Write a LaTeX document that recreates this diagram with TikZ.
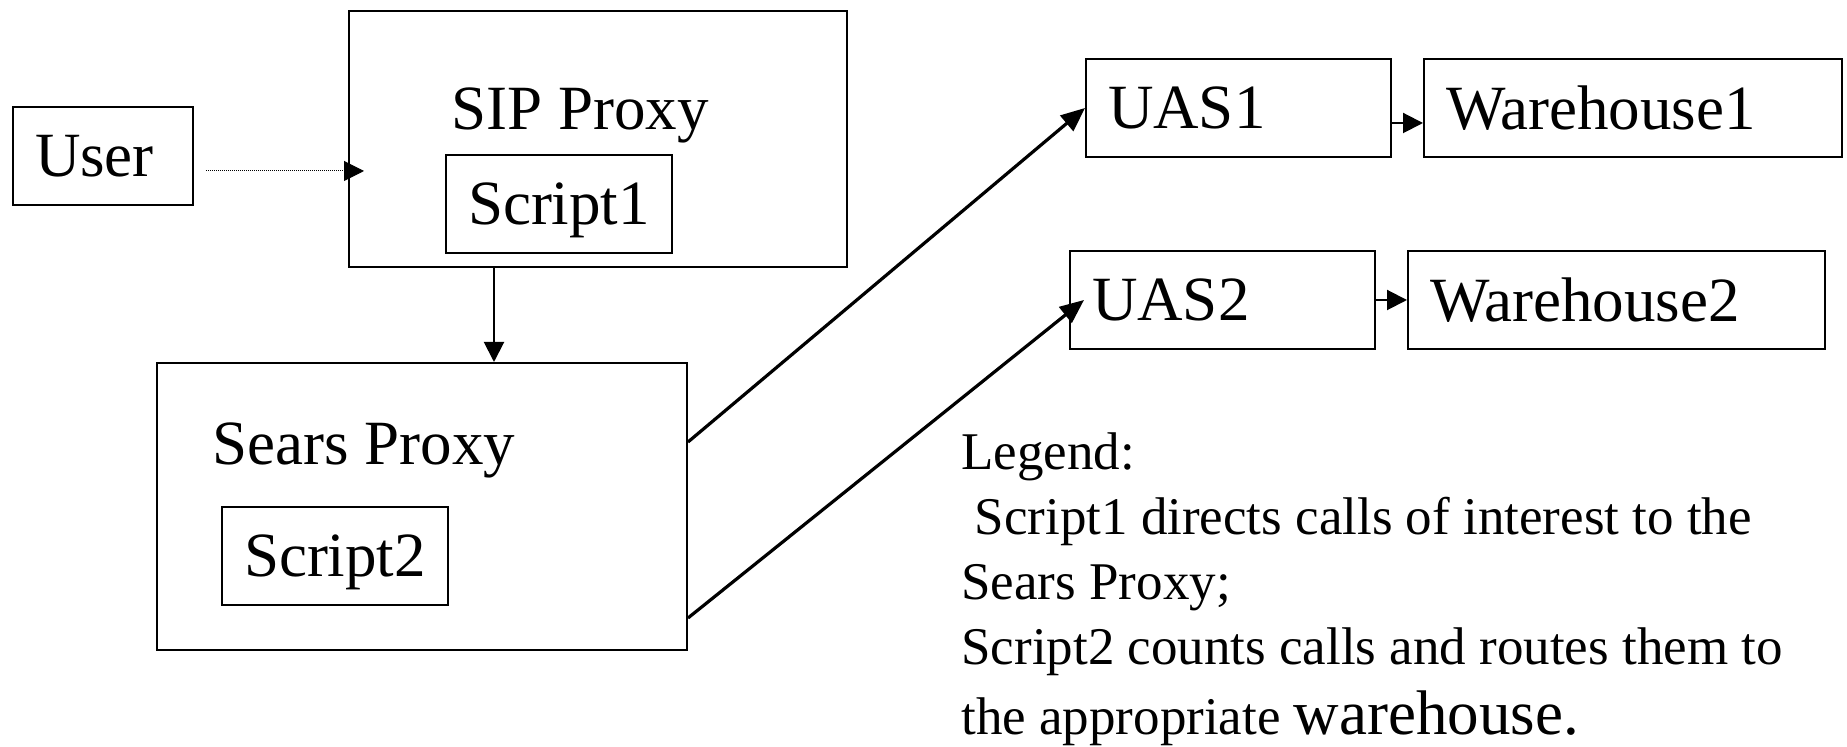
\documentclass[tikz,border=0pt]{standalone}
\usepackage{fontspec}
\setmainfont{Liberation Serif}
\usetikzlibrary{positioning, arrows.meta}
\newcommand{\BoxFont}{\fontsize{31.5pt}{37pt}\selectfont}
\newcommand{\LegendFont}{\fontsize{26.5pt}{32.4pt}\selectfont}
\tikzset{
    box/.style={draw, line width=1pt, text width=#1, align=left, inner xsep=11pt,
      minimum height=49pt, text depth=0pt, font=\BoxFont},
    frame/.style={draw, line width=1pt},
    title/.style={anchor=base west, inner sep=0pt, font=\BoxFont},
    flow/.style={-{Triangle[length=10pt, width=10pt]}, line width=1pt},
    bigflow/.style={-{Triangle[length=12pt, width=10pt]}, line width=1.6pt},
    hint/.style={flow, line width=0.5pt, dash pattern=on 0.5pt off 0.5pt},
}

\begin{document}
\begin{tikzpicture}[x=0.5pt, y=-0.5pt]
    \tikzset{
      node distance=15.5pt
    }
    \useasboundingbox (0,0) rectangle (1847,747);

    \node[box=68pt] (user) at (103,156) {User};

    \node[frame, minimum width=249pt, minimum height=128pt] (sip) at (598,139) {};
    \node[title] (sipname) at (451,130) {SIP Proxy};
    \node[box=91pt] (script1) at (559,204) {Script1};

    \node[frame, minimum width=265pt, minimum height=143.5pt] (sears) at (422,506.5) {};
    \node[title] (searsname) at (212,465) {Sears Proxy};
    \node[box=91pt] (script2) at (335,556) {Script2};

    \node[box=130.5pt] (uas1) at (1238.5,108) {UAS1};
    \node[box=187pt, right=of uas1] (wh1) {Warehouse1};

    \node[box=130.5pt] (uas2) at (1222.5,300) {UAS2};
    \node[box=186.5pt, right=of uas2] (wh2) {Warehouse2};

    \coordinate (userout) at ([shift={(6pt,-7.5pt)}]user.east);
    \draw[hint, shorten >=-8pt] (userout) -- (userout -| sip.west);

    \draw[flow] ([xshift=-52pt]sip.south) -- ([xshift=-52pt]sip.south |- sears.north);

    \draw[bigflow] ([yshift=32.25pt]sears.east) -- (uas1.west);
    \draw[bigflow] ([yshift=-55.75pt]sears.east) -- ([xshift=7.5pt]uas2.west);

    \draw[flow] ([yshift=-7.5pt]uas1.east) -- ([yshift=-7.5pt]wh1.west);
    \draw (uas2.east) edge[flow] (wh2.west);

    \node[anchor=base west, align=left, inner sep=0pt, font=\LegendFont] (legend) at (961,735)
      {Legend:\\
       \ Script1 directs calls of interest to the\\
       Sears Proxy;\\
       Script2 counts calls and routes them to\\[3pt]
       the appropriate {\BoxFont warehouse.}};
\end{tikzpicture}
\end{document}
